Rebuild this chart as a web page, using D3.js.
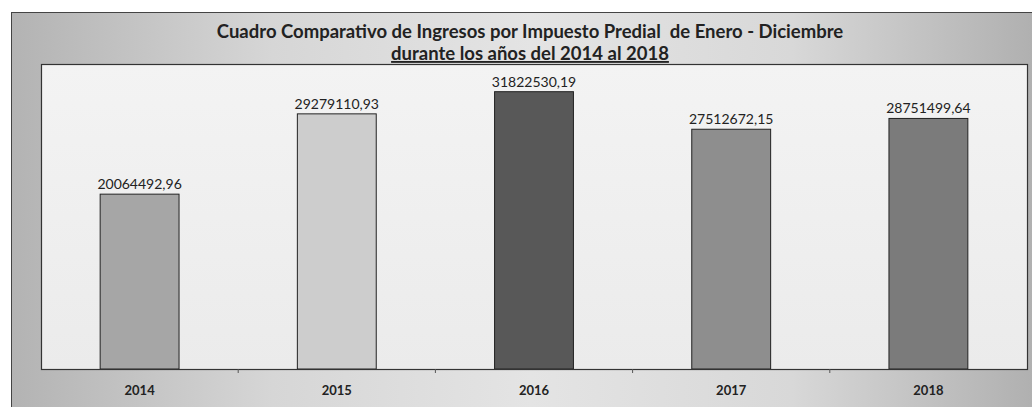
<!DOCTYPE html>
<html>
<head>
<meta charset="utf-8">
<script src="https://cdn.jsdelivr.net/npm/d3@7"></script>
<style>
  html, body { margin: 0; padding: 0; background: #fff; }
  svg { display: block; }
</style>
</head>
<body>
<div id="chart"></div>
<script>
// data
const years = ["2014", "2015", "2016", "2017", "2018"];
const ingresos = [20064492.96, 29279110.93, 31822530.19, 27512672.15, 28751499.64];
const barColors = ["#a6a6a6", "#cdcdcd", "#585858", "#8e8e8e", "#7b7b7b"];
const titleLines = [
    "Cuadro Comparativo de Ingresos por Impuesto Predial  de Enero - Diciembre",
    "durante los años del 2014 al 2018"
];

const width = 1032, height = 407;
// plot area inside the outer frame
const plot = { left: 41, top: 64, right: 1027, bottom: 369 };

const svg = d3.select("#chart").append("svg")
    .attr("width", width)
    .attr("height", height);

// gradient for the outer frame (gray sides, lighter middle)
const defs = svg.append("defs");
const frameGrad = defs.append("linearGradient")
    .attr("id", "frameGrad")
    .attr("x1", "0%").attr("x2", "100%").attr("y1", "0%").attr("y2", "0%");
[[0, "#b3b3b3"], [0.25, "#d6d6d6"], [0.5, "#e4e4e4"], [0.75, "#d8d8d8"], [1, "#adadad"]]
    .forEach(s => frameGrad.append("stop").attr("offset", s[0]).attr("stop-color", s[1]));
const plotGrad = defs.append("linearGradient")
    .attr("id", "plotGrad")
    .attr("x1", "0%").attr("x2", "0%").attr("y1", "0%").attr("y2", "100%");
[[0, "#f3f3f3"], [0.5, "#efefef"], [1, "#ebebeb"]]
    .forEach(s => plotGrad.append("stop").attr("offset", s[0]).attr("stop-color", s[1]));

// outer frame, runs off the right and bottom edges like the scan
svg.append("rect")
    .attr("x", 11.5).attr("y", 12.5)
    .attr("width", 1040).attr("height", 420)
    .attr("fill", "url(#frameGrad)")
    .attr("stroke", "#444")
    .attr("stroke-width", 1);

// plot area
svg.append("rect")
    .attr("x", plot.left + 0.5).attr("y", plot.top + 0.5)
    .attr("width", plot.right - plot.left).attr("height", plot.bottom - plot.top)
    .attr("fill", "url(#plotGrad)")
    .attr("stroke", "#333")
    .attr("stroke-width", 1.2);

// scales
const x = d3.scaleBand()
    .domain(years)
    .range([plot.left, plot.right])
    .paddingInner(0.6)
    .paddingOuter(0.3);
const y = d3.scaleLinear()
    .domain([0, 35000000])
    .range([plot.bottom, plot.top]);

const data = years.map((yr, i) => ({ year: yr, value: ingresos[i], color: barColors[i] }));

// bars
svg.append("g").selectAll("rect")
    .data(data)
    .join("rect")
    .attr("x", d => x(d.year))
    .attr("y", d => y(d.value))
    .attr("width", x.bandwidth())
    .attr("height", d => y(0) - y(d.value))
    .attr("fill", d => d.color)
    .attr("stroke", "#222")
    .attr("stroke-width", 1);

// value labels, decimal comma and no grouping
const fmt = d3.formatLocale({ decimal: ",", thousands: "", grouping: [3], currency: ["", ""] }).format(".2f");
svg.append("g").selectAll("text")
    .data(data)
    .join("text")
    .attr("x", d => x(d.year) + x.bandwidth() / 2)
    .attr("y", d => y(d.value) - 5)
    .attr("text-anchor", "middle")
    .style("font-family", "Lato, 'Open Sans', sans-serif")
    .style("font-size", "14px")
    .style("fill", "#222")
    .text(d => fmt(d.value));

// category axis
const axis = svg.append("g")
    .attr("transform", `translate(0, ${plot.bottom})`)
    .call(d3.axisBottom(x).tickSize(0));
axis.select(".domain").attr("stroke", "#333");
axis.selectAll("text")
    .attr("y", 26)
    .attr("dy", 0)
    .style("font-family", "Lato, 'Open Sans', sans-serif")
    .style("font-size", "13px")
    .style("font-weight", "bold")
    .style("fill", "#222");

// small tick marks between the categories
const step = x.step();
svg.append("g").selectAll("line")
    .data(years.slice(1))
    .join("line")
    .attr("x1", d => x(d) - step * 0.3)
    .attr("x2", d => x(d) - step * 0.3)
    .attr("y1", plot.bottom)
    .attr("y2", plot.bottom + 4)
    .attr("stroke", "#555");

// title
svg.append("g").selectAll("text")
    .data(titleLines)
    .join("text")
    .attr("x", 530)
    .attr("y", (d, i) => 38 + i * 22)
    .attr("text-anchor", "middle")
    .style("font-family", "Lato, 'Open Sans', sans-serif")
    .style("font-size", "18.5px")
    .style("font-weight", "bold")
    .style("fill", "#222")
    .style("text-decoration", (d, i) => i === 1 ? "underline" : "none")
    .style("white-space", "pre")
    .text(d => d);
</script>
</body>
</html>
